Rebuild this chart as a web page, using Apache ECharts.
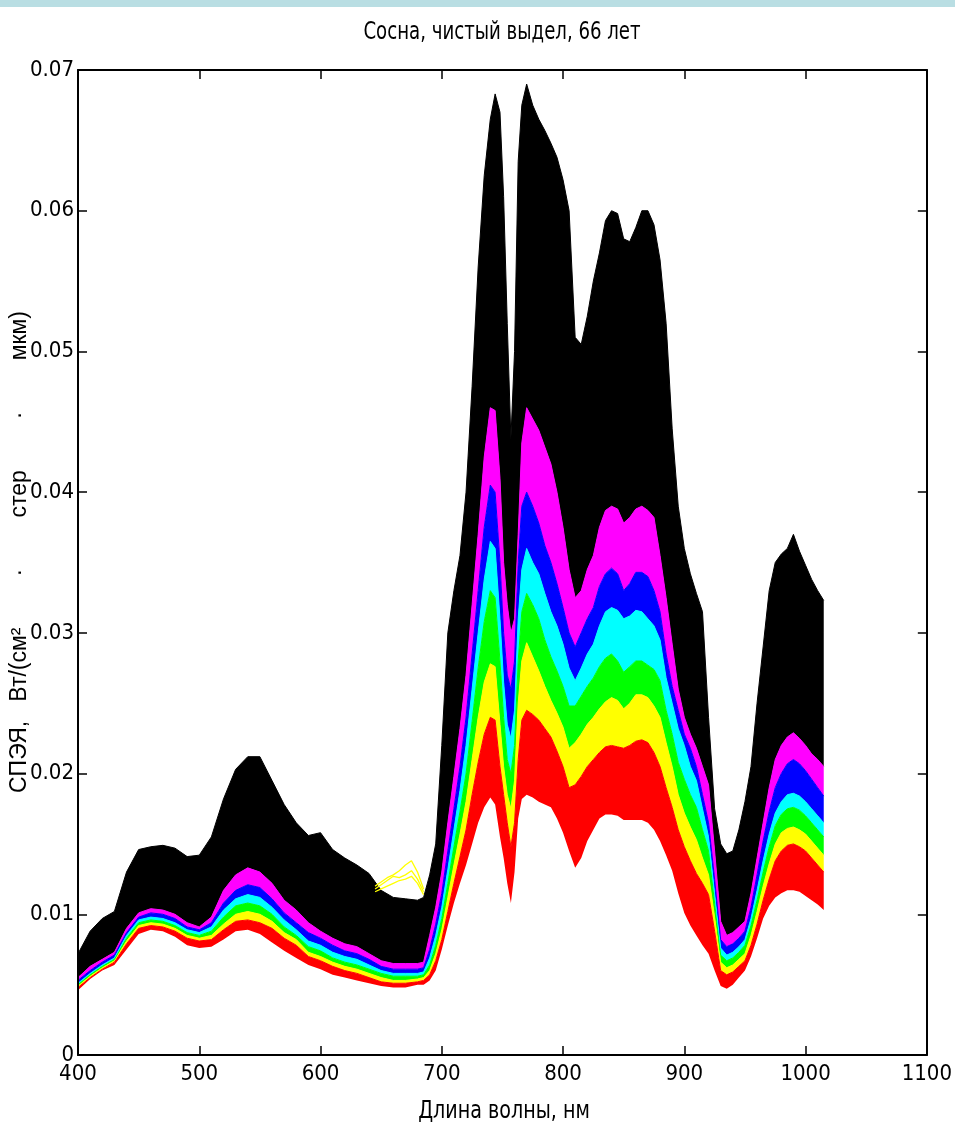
<!DOCTYPE html>
<html>
<head>
<meta charset="utf-8">
<script src="https://cdn.jsdelivr.net/npm/echarts@6/dist/echarts.min.js"></script>
<style>
  html, body { margin: 0; padding: 0; background: #ffffff; }
  #chart { width: 955px; height: 1136px; }
</style>
</head>
<body>
<div id="chart"></div>
<script>
// Wavelength grid, nm
const wavelength = [
  400, 410, 420, 430, 440, 450, 460, 470, 480, 490, 500, 510, 520, 530, 540, 550, 560, 570, 580, 590,
  600, 610, 620, 630, 640, 650, 660, 670, 680,
  685, 690, 695, 700, 705, 710, 715, 720, 725, 730, 735, 740, 744, 748, 751, 754, 757, 760, 763, 766, 770,
  775, 780, 785, 790, 795, 800, 805, 810, 815, 820, 825, 830, 835, 840, 845, 850, 855, 860, 865, 870,
  875, 880, 885, 890, 895, 900, 905, 910, 915, 920, 925, 930,
  935, 940, 945, 950, 955, 960, 965, 970, 975, 980, 985, 990, 995, 1000, 1005, 1010, 1015
];

// Upper envelope of each colour group of spectra, W/(cm2 sr um)
const blackTop = [
  0.0072, 0.0088, 0.0097, 0.0102, 0.0130, 0.0146, 0.0148, 0.0149, 0.0147, 0.0141, 0.0142, 0.0155, 0.0182, 0.0203, 0.0212, 0.0212, 0.0195, 0.0178, 0.0165, 0.0156,
  0.0158, 0.0146, 0.0140, 0.0135, 0.0129, 0.0117, 0.0112, 0.0111, 0.0110,
  0.0112, 0.0128, 0.0150, 0.0220, 0.0300, 0.0330, 0.0355, 0.0400, 0.0475, 0.0560, 0.0625, 0.0665, 0.0683, 0.0670, 0.0610, 0.0520, 0.0438, 0.0500, 0.0635, 0.0675, 0.0690,
  0.0675, 0.0665, 0.0657, 0.0648, 0.0638, 0.0622, 0.0600, 0.0510, 0.0505, 0.0525, 0.0550, 0.0570, 0.0593, 0.0600, 0.0598, 0.0580, 0.0578, 0.0588, 0.0600, 0.0600,
  0.0590, 0.0565, 0.0520, 0.0445, 0.0390, 0.0360, 0.0342, 0.0328, 0.0315, 0.0240, 0.0175, 0.0150,
  0.0143, 0.0145, 0.0160, 0.0180, 0.0205, 0.0250, 0.0290, 0.0330, 0.0350, 0.0356, 0.0360, 0.0370, 0.0358, 0.0348, 0.0338, 0.0330, 0.0323
];
const magentaTop = [
  0.0055, 0.0063, 0.0068, 0.0073, 0.0090, 0.0101, 0.0104, 0.0103, 0.0100, 0.0094, 0.0091, 0.0098, 0.0117, 0.0128, 0.0133, 0.0130, 0.0122, 0.0110, 0.0103, 0.0094,
  0.0088, 0.0083, 0.0079, 0.0077, 0.0072, 0.0067, 0.0065, 0.0065, 0.0065,
  0.0066, 0.0085, 0.0105, 0.0130, 0.0165, 0.0198, 0.0232, 0.0270, 0.0320, 0.0370, 0.0425, 0.0460, 0.0458, 0.0410, 0.0350, 0.0320, 0.0300, 0.0310, 0.0370, 0.0435, 0.0460,
  0.0452, 0.0444, 0.0432, 0.0420, 0.0400, 0.0375, 0.0345, 0.0325, 0.0330, 0.0345, 0.0355, 0.0375, 0.0387, 0.0390, 0.0388, 0.0378, 0.0382, 0.0388, 0.0390, 0.0387,
  0.0382, 0.0355, 0.0325, 0.0292, 0.0260, 0.0240, 0.0228, 0.0218, 0.0205, 0.0192, 0.0145, 0.0095,
  0.0085, 0.0087, 0.0091, 0.0095, 0.0115, 0.0140, 0.0165, 0.0190, 0.0210, 0.0220, 0.0226, 0.0229, 0.0225, 0.0220, 0.0214, 0.0210, 0.0205
];
const blueTop = [
  0.0053, 0.0060, 0.0066, 0.0071, 0.0087, 0.0098, 0.0101, 0.0100, 0.0097, 0.0091, 0.0089, 0.0094, 0.0108, 0.0117, 0.0121, 0.0119, 0.0111, 0.0101, 0.0094, 0.0087,
  0.0083, 0.0078, 0.0074, 0.0072, 0.0068, 0.0063, 0.0061, 0.0061, 0.0061,
  0.0062, 0.0075, 0.0093, 0.0115, 0.0145, 0.0175, 0.0205, 0.0240, 0.0285, 0.0330, 0.0375, 0.0405, 0.0400, 0.0350, 0.0300, 0.0270, 0.0260, 0.0280, 0.0350, 0.0390, 0.0400,
  0.0390, 0.0378, 0.0362, 0.0350, 0.0335, 0.0318, 0.0300, 0.0290, 0.0300, 0.0310, 0.0318, 0.0333, 0.0342, 0.0346, 0.0342, 0.0330, 0.0335, 0.0343, 0.0343, 0.0340,
  0.0330, 0.0315, 0.0285, 0.0262, 0.0245, 0.0228, 0.0218, 0.0205, 0.0185, 0.0165, 0.0125, 0.0082,
  0.0077, 0.0079, 0.0083, 0.0088, 0.0105, 0.0128, 0.0152, 0.0173, 0.0190, 0.0200, 0.0207, 0.0210, 0.0207, 0.0202, 0.0196, 0.0190, 0.0184
];
const cyanTop = [
  0.0051, 0.0058, 0.0064, 0.0069, 0.0085, 0.0096, 0.0098, 0.0097, 0.0094, 0.0089, 0.0087, 0.0091, 0.0103, 0.0111, 0.0114, 0.0112, 0.0105, 0.0096, 0.0089, 0.0081,
  0.0078, 0.0073, 0.0070, 0.0068, 0.0064, 0.0060, 0.0058, 0.0058, 0.0058,
  0.0059, 0.0069, 0.0085, 0.0105, 0.0132, 0.0160, 0.0188, 0.0220, 0.0260, 0.0300, 0.0338, 0.0365, 0.0360, 0.0310, 0.0265, 0.0235, 0.0225, 0.0245, 0.0310, 0.0345, 0.0360,
  0.0350, 0.0342, 0.0328, 0.0315, 0.0305, 0.0292, 0.0275, 0.0266, 0.0275, 0.0285, 0.0292, 0.0305, 0.0315, 0.0318, 0.0316, 0.0310, 0.0312, 0.0316, 0.0315, 0.0310,
  0.0305, 0.0295, 0.0268, 0.0250, 0.0232, 0.0220, 0.0205, 0.0195, 0.0175, 0.0155, 0.0115, 0.0076,
  0.0071, 0.0073, 0.0077, 0.0082, 0.0097, 0.0117, 0.0138, 0.0157, 0.0172, 0.0180, 0.0185, 0.0186, 0.0184, 0.0180, 0.0175, 0.0170, 0.0165
];
const greenTop = [
  0.0050, 0.0057, 0.0063, 0.0068, 0.0083, 0.0094, 0.0096, 0.0095, 0.0092, 0.0087, 0.0085, 0.0088, 0.0098, 0.0106, 0.0108, 0.0106, 0.0100, 0.0091, 0.0085, 0.0077,
  0.0074, 0.0069, 0.0066, 0.0064, 0.0061, 0.0058, 0.0056, 0.0056, 0.0056,
  0.0057, 0.0064, 0.0078, 0.0097, 0.0122, 0.0148, 0.0173, 0.0200, 0.0237, 0.0275, 0.0308, 0.0330, 0.0325, 0.0280, 0.0240, 0.0210, 0.0200, 0.0220, 0.0280, 0.0315, 0.0328,
  0.0320, 0.0310, 0.0295, 0.0283, 0.0273, 0.0262, 0.0248, 0.0248, 0.0255, 0.0262, 0.0268, 0.0276, 0.0282, 0.0285, 0.0280, 0.0272, 0.0276, 0.0280, 0.0280, 0.0277,
  0.0274, 0.0266, 0.0245, 0.0228, 0.0208, 0.0196, 0.0185, 0.0176, 0.0160, 0.0145, 0.0108, 0.0071,
  0.0067, 0.0069, 0.0073, 0.0078, 0.0092, 0.0110, 0.0130, 0.0148, 0.0163, 0.0171, 0.0175, 0.0176, 0.0174, 0.0170, 0.0165, 0.0160, 0.0155
];
const yellowTop = [
  0.0049, 0.0056, 0.0062, 0.0067, 0.0081, 0.0092, 0.0094, 0.0093, 0.0090, 0.0085, 0.0083, 0.0085, 0.0093, 0.0100, 0.0102, 0.0100, 0.0095, 0.0087, 0.0082, 0.0073,
  0.0070, 0.0066, 0.0063, 0.0061, 0.0058, 0.0055, 0.0053, 0.0053, 0.0054,
  0.0055, 0.0060, 0.0072, 0.0089, 0.0112, 0.0135, 0.0157, 0.0180, 0.0210, 0.0240, 0.0265, 0.0278, 0.0276, 0.0235, 0.0205, 0.0185, 0.0175, 0.0195, 0.0250, 0.0280, 0.0293,
  0.0283, 0.0273, 0.0262, 0.0252, 0.0243, 0.0233, 0.0218, 0.0222, 0.0228, 0.0235, 0.0240, 0.0246, 0.0251, 0.0254, 0.0252, 0.0246, 0.0250, 0.0256, 0.0256, 0.0254,
  0.0248, 0.0240, 0.0222, 0.0205, 0.0185, 0.0172, 0.0162, 0.0153, 0.0140, 0.0128, 0.0098, 0.0066,
  0.0062, 0.0064, 0.0068, 0.0072, 0.0085, 0.0102, 0.0120, 0.0136, 0.0150, 0.0158, 0.0161, 0.0162, 0.0160, 0.0157, 0.0152, 0.0147, 0.0142
];
const redTop = [
  0.0048, 0.0055, 0.0061, 0.0066, 0.0079, 0.0090, 0.0092, 0.0091, 0.0088, 0.0083, 0.0081, 0.0082, 0.0089, 0.0095, 0.0096, 0.0094, 0.0090, 0.0083, 0.0078, 0.0070,
  0.0067, 0.0063, 0.0060, 0.0058, 0.0055, 0.0052, 0.0051, 0.0051, 0.0052,
  0.0053, 0.0057, 0.0067, 0.0082, 0.0102, 0.0122, 0.0141, 0.0160, 0.0185, 0.0208, 0.0228, 0.0240, 0.0238, 0.0205, 0.0185, 0.0165, 0.0148, 0.0165, 0.0210, 0.0238, 0.0245,
  0.0242, 0.0238, 0.0232, 0.0226, 0.0216, 0.0205, 0.0190, 0.0192, 0.0198, 0.0205, 0.0210, 0.0215, 0.0219, 0.0220, 0.0219, 0.0218, 0.0220, 0.0223, 0.0224, 0.0222,
  0.0215, 0.0205, 0.0190, 0.0176, 0.0160, 0.0148, 0.0138, 0.0129, 0.0122, 0.0114, 0.0088, 0.0060,
  0.0057, 0.0059, 0.0063, 0.0067, 0.0078, 0.0093, 0.0110, 0.0125, 0.0138, 0.0145, 0.0149, 0.0150, 0.0148, 0.0145, 0.0140, 0.0135, 0.0130
];
// Lower envelope of all spectra
const redBottom = [
  0.0046, 0.0054, 0.0060, 0.0064, 0.0075, 0.0086, 0.0089, 0.0088, 0.0084, 0.0078, 0.0076, 0.0077, 0.0082, 0.0088, 0.0089, 0.0086, 0.0080, 0.0074, 0.0069, 0.0064,
  0.0061, 0.0057, 0.0055, 0.0053, 0.0051, 0.0049, 0.0048, 0.0048, 0.0050,
  0.0050, 0.0053, 0.0060, 0.0075, 0.0092, 0.0108, 0.0122, 0.0135, 0.0150, 0.0165, 0.0176, 0.0183, 0.0178, 0.0155, 0.0140, 0.0122, 0.0108, 0.0130, 0.0168, 0.0182, 0.0185,
  0.0183, 0.0180, 0.0178, 0.0176, 0.0168, 0.0158, 0.0145, 0.0133, 0.0140, 0.0152, 0.0160, 0.0168, 0.0171, 0.0171, 0.0170, 0.0167, 0.0167, 0.0167, 0.0167, 0.0165,
  0.0160, 0.0152, 0.0142, 0.0131, 0.0115, 0.0101, 0.0092, 0.0085, 0.0078, 0.0072, 0.0060, 0.0049,
  0.0047, 0.0050, 0.0055, 0.0060, 0.0070, 0.0083, 0.0097, 0.0106, 0.0112, 0.0115, 0.0117, 0.0117, 0.0116, 0.0113, 0.0110, 0.0107, 0.0103
];

// A few yellow-group spectra that rise above the bulk near 650-685 nm
const outlierWavelength = [645, 650, 655, 660, 665, 670, 675, 680, 685];
const yellowOutlier1 = [0.0120, 0.0123, 0.0126, 0.0128, 0.0131, 0.0135, 0.0138, 0.0130, 0.0118];
const yellowOutlier2 = [0.0118, 0.0121, 0.0124, 0.0127, 0.0126, 0.0128, 0.0131, 0.0125, 0.0116];
const yellowOutlier3 = [0.0116, 0.0118, 0.0120, 0.0122, 0.0124, 0.0125, 0.0127, 0.0122, 0.0114];

const xTicks = [400, 500, 600, 700, 800, 900, 1000, 1100];
const yTicks = [0, 0.01, 0.02, 0.03, 0.04, 0.05, 0.06, 0.07];

const titleText = 'Сосна, чистый выдел, 66 лет';
const xName = 'Длина волны, нм';
const yName = 'СПЭЯ,   Вт/(см²        ·        стер        ·        мкм)';

const NARROW = "'Liberation Sans Narrow', 'Arial Narrow', 'DejaVu Sans Condensed', 'Liberation Sans', Arial, sans-serif";
const REGULAR = "'Liberation Sans', Arial, sans-serif";

// Colour bands from the bottom up: each band spans from the envelope below it to its own upper envelope
const bands = [
  { color: '#ff0000', top: redTop, below: redBottom },
  { color: '#ffff00', top: yellowTop, below: redTop },
  { color: '#00ff00', top: greenTop, below: yellowTop },
  { color: '#00ffff', top: cyanTop, below: greenTop },
  { color: '#0000ff', top: blueTop, below: cyanTop },
  { color: '#ff00ff', top: magentaTop, below: blueTop },
  { color: '#000000', top: blackTop, below: magentaTop }
];

// Stacked rows are [value, wavelength]; encode maps them back to y / x
function stackRows(vals) { return wavelength.map((w, i) => [vals[i], w]); }

const series = [{
  type: 'line',
  stack: 'spectra',
  encode: { x: 1, y: 0 },
  data: stackRows(redBottom),
  symbol: 'none',
  silent: true,
  lineStyle: { width: 0, opacity: 0 }
}];

bands.forEach(b => {
  series.push({
    type: 'line',
    stack: 'spectra',
    encode: { x: 1, y: 0 },
    data: stackRows(b.top.map((v, i) => Math.max(0, v - b.below[i]))),
    symbol: 'none',
    silent: true,
    lineStyle: { color: b.color, width: 1 },
    areaStyle: { color: b.color, opacity: 1 }
  });
});

[yellowOutlier1, yellowOutlier2, yellowOutlier3].forEach(arr => {
  series.push({
    type: 'line',
    data: outlierWavelength.map((w, i) => [w, arr[i]]),
    symbol: 'none',
    silent: true,
    lineStyle: { color: '#ffff00', width: 1.3 }
  });
});

const axisLineStyle = { color: '#000000', width: 2 };
const tickStyle = { color: '#000000', width: 1.5 };

const chart = echarts.init(document.getElementById('chart'), null, { renderer: 'canvas' });
chart.setOption({
  animation: false,
  backgroundColor: '#ffffff',
  grid: { left: 78, right: 24, top: 70, bottom: 81, containLabel: false },
  xAxis: [
    {
      type: 'value', position: 'bottom',
      min: xTicks[0], max: xTicks[xTicks.length - 1], interval: 100,
      axisLine: { show: true, onZero: false, lineStyle: axisLineStyle },
      axisTick: { show: true, inside: true, length: 9, lineStyle: tickStyle },
      axisLabel: {
        color: '#000', fontSize: 22, fontFamily: NARROW, margin: 8,
        showMinLabel: true, showMaxLabel: true,
        formatter: v => String(Math.round(v))
      },
      splitLine: { show: false },
      z: 10
    },
    {
      type: 'value', position: 'top',
      min: xTicks[0], max: xTicks[xTicks.length - 1], interval: 100,
      axisLine: { show: true, onZero: false, lineStyle: axisLineStyle },
      axisTick: { show: true, inside: true, length: 9, lineStyle: tickStyle },
      axisLabel: { show: false },
      splitLine: { show: false },
      z: 10
    }
  ],
  yAxis: [
    {
      type: 'value', position: 'left',
      min: yTicks[0], max: yTicks[yTicks.length - 1], interval: 0.01,
      axisLine: { show: true, onZero: false, lineStyle: axisLineStyle },
      axisTick: { show: true, inside: true, length: 9, lineStyle: tickStyle },
      axisLabel: {
        color: '#000', fontSize: 22, fontFamily: NARROW, margin: 4,
        showMinLabel: true, showMaxLabel: true,
        formatter: v => (Math.abs(v) < 1e-9 ? '0' : v.toFixed(2))
      },
      splitLine: { show: false },
      z: 10
    },
    {
      type: 'value', position: 'right',
      min: yTicks[0], max: yTicks[yTicks.length - 1], interval: 0.01,
      axisLine: { show: true, onZero: false, lineStyle: axisLineStyle },
      axisTick: { show: true, inside: true, length: 9, lineStyle: tickStyle },
      axisLabel: { show: false },
      splitLine: { show: false },
      z: 10
    }
  ],
  graphic: [
    { type: 'rect', left: 0, top: 0, shape: { width: 955, height: 7 }, style: { fill: '#b9dee3' }, silent: true },
    {
      type: 'text', x: 502, y: 33, scaleX: 0.84,
      style: { text: titleText, fill: '#000', font: "24px " + NARROW, textAlign: 'center', textVerticalAlign: 'middle' },
      silent: true
    },
    {
      type: 'text', x: 504, y: 1111, scaleX: 0.85,
      style: { text: xName, fill: '#000', font: "25px " + NARROW, textAlign: 'center', textVerticalAlign: 'middle' },
      silent: true
    },
    {
      type: 'text', x: 20, y: 552, rotation: Math.PI / 2,
      style: { text: yName, fill: '#000', font: "23px " + REGULAR, textAlign: 'center', textVerticalAlign: 'middle' },
      silent: true
    }
  ],
  series: series
});
</script>
</body>
</html>
